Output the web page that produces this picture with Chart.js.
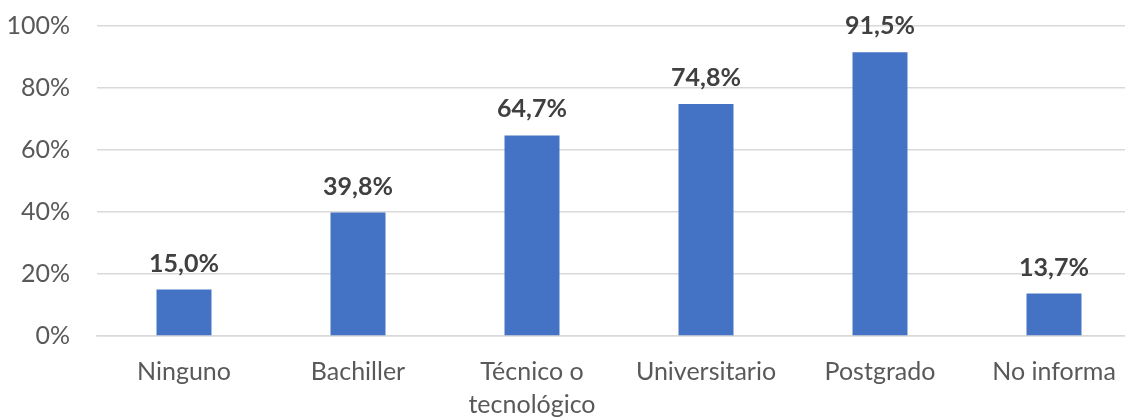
<!DOCTYPE html>
<html>
<head>
<meta charset="utf-8">
<script src="https://cdn.jsdelivr.net/npm/chart.js@4"></script>
<style>
  html, body { margin:0; padding:0; background:#fff; overflow:hidden; }
  #wrap { width:1141px; height:417px; position:relative; }
</style>
</head>
<body>
<div id="wrap"><canvas id="c"></canvas></div>
<script>
const categories = ['Ninguno', 'Bachiller', ['Técnico o', 'tecnológico'], 'Universitario', 'Postgrado', 'No informa'];
const values = [15.0, 39.8, 64.7, 74.8, 91.5, 13.7];
const yTicks = [0, 20, 40, 60, 80, 100];

const FONT = 'Lato, "Open Sans", sans-serif';

const labelPlugin = {
  id: 'barLabels',
  afterDatasetsDraw(chart) {
    const ctx = chart.ctx;
    const meta = chart.getDatasetMeta(0);
    ctx.save();
    ctx.font = 'bold 25px ' + FONT;
    ctx.fillStyle = '#404040';
    ctx.textAlign = 'center';
    ctx.textBaseline = 'alphabetic';
    meta.data.forEach((bar, i) => {
      const txt = values[i].toFixed(1).replace('.', ',') + '%';
      ctx.fillText(txt, bar.x, bar.y - 18);
    });
    ctx.restore();
  }
};

new Chart(document.getElementById('c'), {
  type: 'bar',
  data: {
    labels: categories,
    datasets: [{
      data: values,
      backgroundColor: '#4472C4',
      borderWidth: 0,
      barPercentage: 0.316,
      categoryPercentage: 1.0
    }]
  },
  options: {
    responsive: true,
    maintainAspectRatio: false,
    animation: false,
    layout: { padding: { top: 0, left: 0, right: 0, bottom: 0 } },
    plugins: { legend: { display: false }, tooltip: { enabled: false } },
    scales: {
      x: {
        afterFit(scale) { scale.height = 81; },
        grid: { display: false, drawTicks: false },
        border: { display: true, color: '#d9d9d9', width: 1.5 },
        ticks: { color: '#595959', font: { family: FONT, size: 25, lineHeight: 1.3 }, padding: 20, maxRotation: 0, autoSkip: false }
      },
      y: {
        min: 0, max: 100,
        afterBuildTicks(scale) { scale.ticks = yTicks.map(v => ({ value: v })); },
        afterFit(scale) { scale.width = 97; scale.paddingTop = 26; scale.paddingBottom = 0; },
        grid: { color: '#d9d9d9', lineWidth: 1.5, drawTicks: false },
        border: { display: false },
        ticks: { color: '#595959', font: { family: FONT, size: 25 }, padding: 27, callback: v => v + '%' }
      }
    }
  },
  plugins: [labelPlugin]
});
</script>
</body>
</html>
